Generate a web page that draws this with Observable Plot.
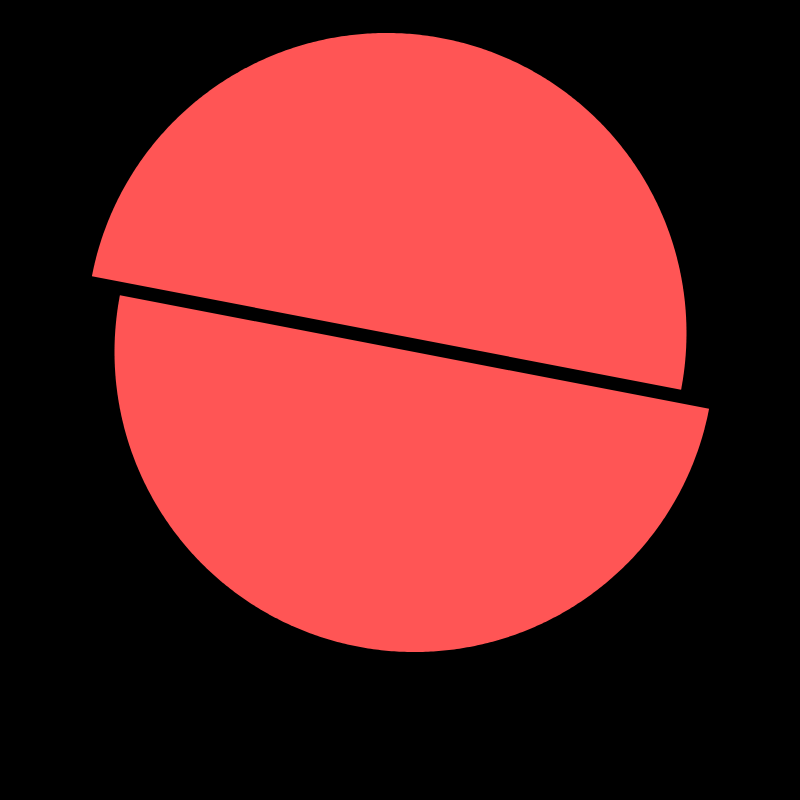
<!DOCTYPE html>
<html><head><meta charset="utf-8">
<script src="https://cdn.jsdelivr.net/npm/d3@7"></script>
<script src="https://cdn.jsdelivr.net/npm/@observablehq/plot@0.6"></script>
<style>html,body{margin:0;padding:0;background:#000;}</style>
</head><body><div id="chart"></div>
<script>
// data
const sliceLabels = ["A", "B"];
const sliceValues = [50, 50];

// layout (not data)
const startDeg = -79.1;
const sliceShift = [[-0.0467, 0.0317], [0.0467, -0.0317]];
const a0 = startDeg * Math.PI / 180;
const pie = d3.pie().sort(null).startAngle(a0).endAngle(a0 + 2 * Math.PI);
const arcs = pie(sliceValues);
const pts = [];
arcs.forEach((a, i) => {
  const [dx, dy] = sliceShift[i];
  const n = 360;
  pts.push({slice: sliceLabels[i], x: dx, y: dy});
  for (let k = 0; k <= n; k++) {
    const t = a.startAngle + (a.endAngle - a.startAngle) * k / n;
    pts.push({slice: sliceLabels[i], x: dx + Math.sin(t), y: dy + Math.cos(t)});
  }
});
const chart = Plot.plot({
  width: 800, height: 800, margin: 0,
  x: {domain: [-4/3, 4/3], axis: null},
  y: {domain: [-458/300, 342/300], axis: null},
  style: {background: "#000"},
  marks: [
    Plot.line(pts, {x: "x", y: "y", z: "slice", fill: "#ff5555", stroke: "none", curve: "linear-closed"})
  ]
});
document.getElementById("chart").appendChild(chart);
</script>
</body></html>
